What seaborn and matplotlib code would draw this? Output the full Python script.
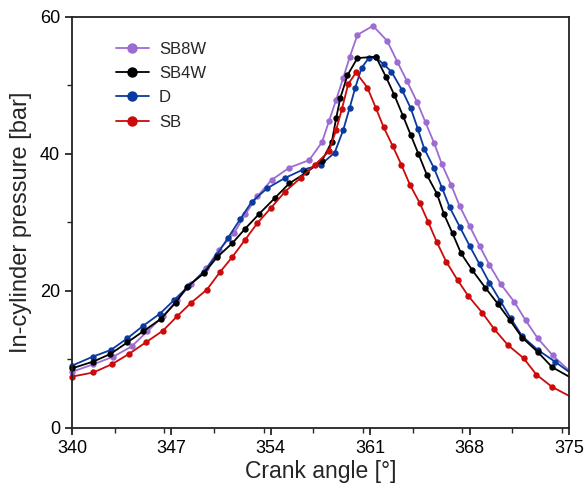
import matplotlib
matplotlib.use("Agg")
import matplotlib.pyplot as plt
from matplotlib.lines import Line2D
from matplotlib.ticker import MultipleLocator
import pandas as pd
import seaborn as sns

# marker points; the last point of each series is where
# the line meets the right spine (no marker drawn there)
sb8w_x = [340.0, 341.5, 342.9, 344.2, 345.3, 346.4, 347.4, 348.4, 349.45, 350.35,
          351.4, 352.2, 353.05, 354.05, 355.3, 356.7, 357.6, 358.1, 358.6, 359.1,
          359.55, 360.1, 361.2, 362.2, 362.9, 363.6, 364.3, 364.9, 365.5, 366.05,
          366.7, 367.3, 368.0, 368.7, 369.4, 370.2, 371.15, 371.95, 372.8, 373.85, 375.0]
sb8w_y = [8.2, 9.3, 10.4, 11.9, 14.1, 16.3, 18.7, 21.0, 23.3, 26.0,
          28.4, 31.2, 33.8, 36.2, 38.0, 39.1, 41.7, 44.8, 47.9, 51.1,
          54.1, 57.4, 58.7, 56.5, 53.5, 50.6, 47.6, 44.6, 41.6, 38.5,
          35.5, 32.4, 29.5, 26.6, 23.8, 21.0, 18.4, 15.7, 13.1, 10.6, 8.4]

sb4w_x = [340.0, 341.5, 342.7, 343.9, 345.0, 346.25, 347.3, 348.1, 349.3, 350.2,
          351.3, 352.2, 353.2, 354.3, 355.3, 356.5, 357.6, 358.3, 358.6, 358.9,
          359.4, 360.1, 361.4, 362.1, 362.7, 363.3, 363.85, 364.4, 365.0, 365.7,
          366.2, 366.8, 367.4, 368.2, 369.1, 370.0, 370.85, 371.7, 372.8, 373.8, 375.0]
sb4w_y = [8.7, 9.7, 10.8, 12.5, 14.1, 15.9, 18.3, 20.6, 22.6, 24.9,
          27.0, 29.1, 31.3, 33.6, 35.7, 37.3, 39.0, 41.8, 45.2, 48.2,
          51.5, 54.0, 54.2, 51.3, 48.6, 45.6, 42.8, 40.0, 36.9, 34.2,
          31.2, 28.4, 25.5, 23.0, 20.5, 18.1, 15.7, 13.2, 11.1, 8.9, 7.5]

d_x = [340.0, 341.45, 342.75, 343.9, 345.0, 346.2, 347.2, 348.2, 349.3, 350.2,
       351.0, 351.85, 352.65, 353.75, 355.0, 356.25, 357.5, 358.5, 359.1, 359.55,
       359.95, 360.4, 360.9, 361.4, 361.95, 362.5, 363.25, 363.85, 364.35, 364.8,
       365.5, 366.05, 366.6, 367.3, 368.0, 368.7, 369.4, 370.15, 370.9, 371.7,
       372.8, 374.0, 375.0]
d_y = [9.1, 10.4, 11.4, 13.1, 14.9, 16.7, 18.7, 20.7, 22.8, 25.3,
       27.8, 30.5, 33.0, 35.0, 36.5, 37.7, 38.4, 40.2, 43.5, 46.7,
       49.7, 52.6, 54.0, 54.1, 53.1, 52.0, 49.3, 46.7, 43.7, 40.8,
       37.9, 35.1, 32.2, 29.4, 26.6, 23.9, 21.2, 18.6, 16.0, 13.4,
       11.4, 9.7, 8.2]

sb_x = [340.0, 341.5, 342.8, 344.0, 345.2, 346.4, 347.4, 348.4, 349.5, 350.4,
        351.3, 352.2, 353.05, 354.0, 355.0, 356.1, 357.1, 358.1, 358.6, 359.0,
        359.45, 360.0, 360.8, 361.4, 361.95, 362.6, 363.2, 363.8, 364.5, 365.1,
        365.7, 366.35, 367.15, 367.9, 368.9, 369.75, 370.7, 371.8, 372.7, 373.8, 375.0]
sb_y = [7.5, 8.1, 9.3, 10.8, 12.5, 14.2, 16.3, 18.3, 20.2, 22.7,
        25.0, 27.5, 29.9, 32.1, 34.5, 36.5, 38.4, 40.4, 43.5, 46.5,
        50.2, 51.9, 49.7, 46.7, 43.9, 41.1, 38.4, 35.5, 32.8, 30.0,
        27.1, 24.3, 21.6, 19.3, 16.8, 14.4, 12.1, 10.2, 7.8, 6.0, 4.7]

fuels = ["SB8W", "SB4W", "D", "SB"]
colors = {"SB8W": "#9d6cd3", "SB4W": "#000000", "D": "#0a3a9e", "SB": "#cc0a0a"}
series = {"SB8W": (sb8w_x, sb8w_y), "SB4W": (sb4w_x, sb4w_y),
          "D": (d_x, d_y), "SB": (sb_x, sb_y)}

sns.set_style("ticks")
plt.rcParams["font.family"] = ["Liberation Sans", "DejaVu Sans"]

fig = plt.figure(figsize=(5.87, 4.98), dpi=100)
ax = fig.add_axes([0.1227, 0.1406, 0.8466, 0.8253])

# draw from back to front: SB8W behind, SB on top
for fuel in ["SB8W", "D", "SB4W", "SB"]:
    xs, ys = series[fuel]
    df = pd.DataFrame({"angle": xs, "pressure": ys})
    sns.lineplot(data=df, x="angle", y="pressure", ax=ax, color=colors[fuel],
                 estimator=None, sort=False, lw=1.3, marker="o", markersize=4.6,
                 markeredgewidth=0, markevery=slice(0, -1), clip_on=False,
                 legend=False)

ax.set_xlim(340, 375)
ax.set_ylim(0, 60)
ax.set_xticks([340, 347, 354, 361, 368, 375])
ax.set_yticks([0, 20, 40, 60])
ax.xaxis.set_minor_locator(MultipleLocator(3.5))
ax.yaxis.set_minor_locator(MultipleLocator(10))
ax.tick_params(which="major", direction="out", length=5, width=1.1,
               labelsize=13, colors="black")
ax.tick_params(which="minor", direction="out", length=3.5, width=1.0)
for side in ["left", "bottom", "top", "right"]:
    ax.spines[side].set_visible(True)
    ax.spines[side].set_linewidth(1.3)
    ax.spines[side].set_color("#222222")

ax.set_xlabel("Crank angle [°]", fontsize=16.5, labelpad=2)
ax.set_ylabel("In-cylinder pressure [bar]", fontsize=17, labelpad=6)

handles = [Line2D([], [], color=colors[f], lw=1.3, marker="o", markersize=7.5,
                  markeredgewidth=0) for f in fuels]
ax.legend(handles, fuels, loc="upper left", bbox_to_anchor=(0.088, 0.94),
          frameon=False, fontsize=12, handlelength=2.0, handletextpad=0.6,
          labelspacing=0.56, borderpad=0, borderaxespad=0)

fig.savefig("out.png", dpi=100)
